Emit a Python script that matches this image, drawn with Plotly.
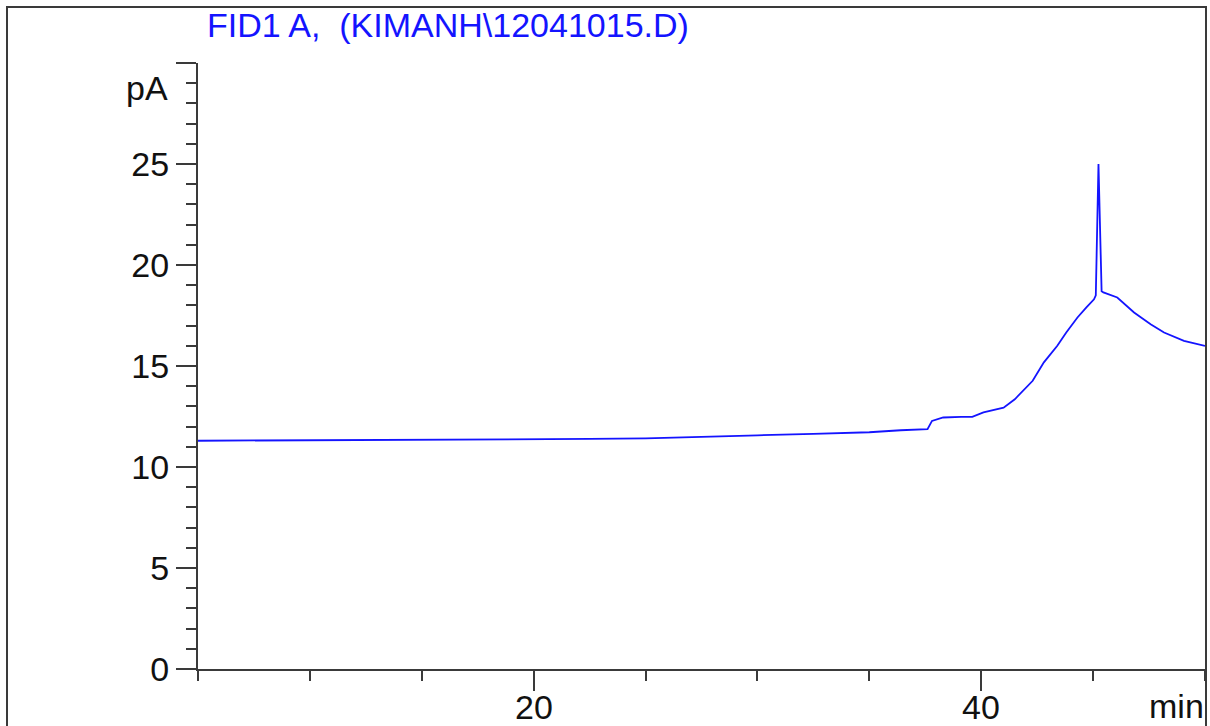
import plotly.graph_objects as go

# FID1 A chromatogram trace: retention time (min) vs detector signal (pA)
time_min = [5.0, 7.5, 10.0, 12.5, 15.0, 17.5, 20.0, 22.5, 25.0, 27.5, 30.0, 32.5,
            35.0, 36.4, 37.6, 37.8, 38.3, 39.1, 39.6, 40.1, 41.0, 41.5, 41.8,
            42.3, 42.8, 43.4, 43.8, 44.3, 44.7, 45.04, 45.12, 45.24, 45.38,
            45.46, 46.08, 46.83, 47.57, 48.17, 49.06, 50.0]
signal_pA = [11.30, 11.31, 11.32, 11.33, 11.35, 11.36, 11.37, 11.39, 11.42, 11.48,
             11.57, 11.64, 11.72, 11.82, 11.87, 12.28, 12.45, 12.48, 12.48, 12.70,
             12.94, 13.35, 13.68, 14.27, 15.18, 16.00, 16.66, 17.40, 17.90, 18.30,
             18.50, 25.00, 18.70, 18.64, 18.39, 17.65, 17.07, 16.66, 16.24, 16.00]

y_tickvals = [0, 5, 10, 15, 20, 25, 30]
y_ticktext = ["0", "5", "10", "15", "20", "25", ""]
x_tickvals = [20, 40]
x_ticktext = ["20", "40"]

title_text = "FID1 A,\u00a0\u00a0(KIMANH\\12041015.D)"
y_unit = "pA"
x_unit = "min"

FONT = "Liberation Sans, Arial, sans-serif"
FS = 34
AXIS = "#3a3a3a"
BLUE = "#1414ff"
INK = "#111111"

W, H = 1210, 726
ML, MR, MT, MB = 198, 5, 63, 57
PW, PH = W - ML - MR, H - MT - MB


def px_x(p):
    return (p - ML) / PW


def px_y(p):
    return (H - MB - p) / PH


fig = go.Figure()
fig.add_trace(go.Scatter(
    x=time_min, y=signal_pA, mode="lines",
    line=dict(color=BLUE, width=1.8),
    hoverinfo="skip", showlegend=False,
))

# x tick labels sit close under the long ticks, so they are placed as annotations
x_label_annotations = [
    dict(text=t, xref="x", yref="paper", x=v, y=px_y(707),
         xanchor="center", yanchor="middle", showarrow=False,
         font=dict(family=FONT, size=FS, color=INK))
    for v, t in zip(x_tickvals, x_ticktext)
]

fig.update_layout(
    width=W, height=H,
    margin=dict(l=ML, r=MR, t=MT, b=MB, pad=0, autoexpand=False),
    paper_bgcolor="white", plot_bgcolor="white",
    font=dict(family=FONT, size=FS, color=INK),
    xaxis=dict(
        range=[5, 50], showgrid=False, zeroline=False, automargin=False,
        showline=True, linecolor=AXIS, linewidth=2,
        ticks="outside", ticklen=20, tickwidth=2, tickcolor=AXIS,
        tickvals=x_tickvals, showticklabels=False,
        minor=dict(dtick=5, tick0=0, ticks="outside", ticklen=10,
                   tickwidth=2, tickcolor=AXIS, showgrid=False),
    ),
    yaxis=dict(
        range=[0, 30], showgrid=False, zeroline=False, automargin=False,
        showline=True, linecolor=AXIS, linewidth=2,
        ticks="outside", ticklen=20, tickwidth=2, tickcolor=AXIS,
        tickvals=y_tickvals, ticktext=y_ticktext,
        tickfont=dict(family=FONT, size=FS, color=INK),
        minor=dict(dtick=1, tick0=0, ticks="outside", ticklen=10,
                   tickwidth=2, tickcolor=AXIS, showgrid=False),
    ),
    shapes=[
        # outer frame around the whole chart
        dict(type="rect", xref="paper", yref="paper",
             x0=px_x(7), x1=px_x(1206), y0=px_y(740), y1=px_y(7),
             line=dict(color=AXIS, width=2), fillcolor="rgba(0,0,0,0)"),
    ],
    annotations=[
        dict(text=title_text, xref="paper", yref="paper",
             x=px_x(205), y=px_y(25), xanchor="left", yanchor="middle",
             showarrow=False, font=dict(family=FONT, size=FS, color=BLUE)),
        dict(text=y_unit, xref="paper", yref="paper",
             x=px_x(170), y=px_y(88), xanchor="right", yanchor="middle",
             showarrow=False, font=dict(family=FONT, size=FS, color=INK)),
        dict(text=x_unit, xref="paper", yref="paper",
             x=px_x(1206), y=px_y(706), xanchor="right", yanchor="middle",
             showarrow=False, font=dict(family=FONT, size=FS, color=INK)),
    ] + x_label_annotations,
)

fig.write_html("out.html")
